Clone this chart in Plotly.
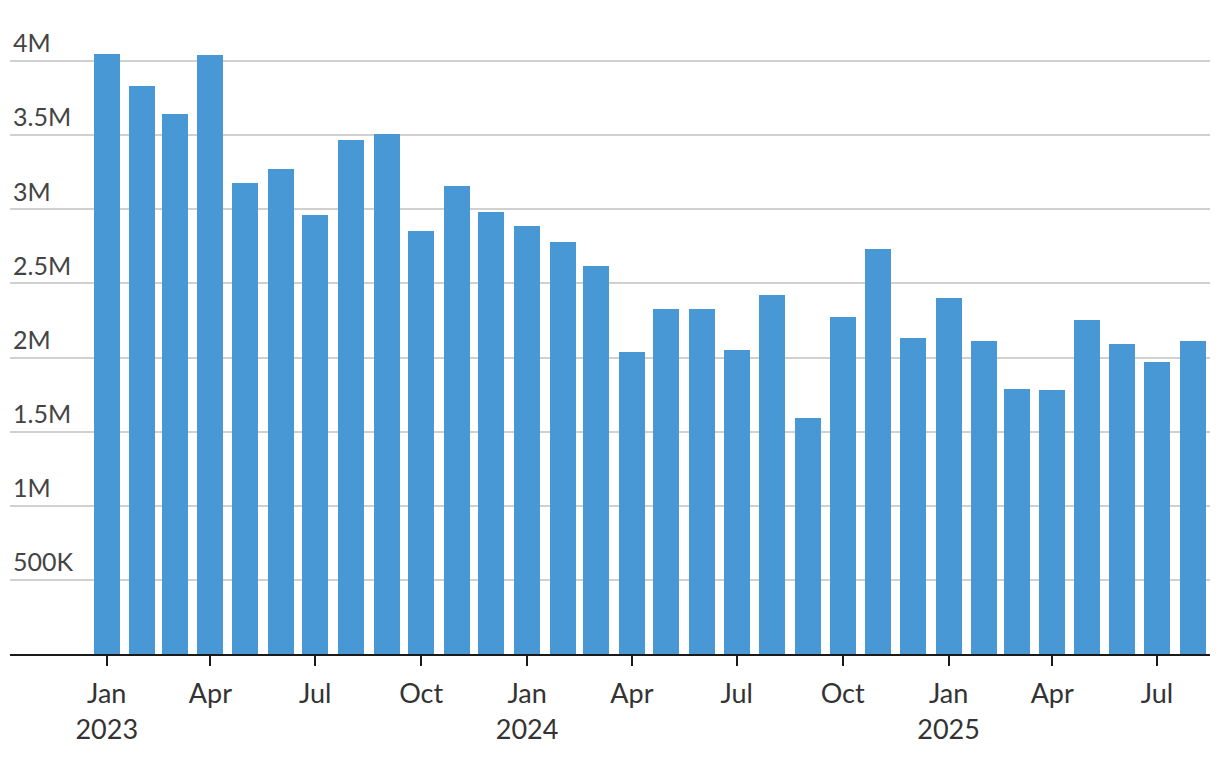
import plotly.graph_objects as go

months = ["2023-01-01", "2023-02-01", "2023-03-01", "2023-04-01", "2023-05-01", "2023-06-01",
          "2023-07-01", "2023-08-01", "2023-09-01", "2023-10-01", "2023-11-01", "2023-12-01",
          "2024-01-01", "2024-02-01", "2024-03-01", "2024-04-01", "2024-05-01", "2024-06-01",
          "2024-07-01", "2024-08-01", "2024-09-01", "2024-10-01", "2024-11-01", "2024-12-01",
          "2025-01-01", "2025-02-01", "2025-03-01", "2025-04-01", "2025-05-01", "2025-06-01",
          "2025-07-01", "2025-08-01"]
values = [4.05e6, 3.83e6, 3.64e6, 4.04e6, 3.18e6, 3.27e6, 2.96e6, 3.47e6, 3.51e6, 2.85e6,
          3.16e6, 2.98e6, 2.89e6, 2.78e6, 2.62e6, 2.04e6, 2.33e6, 2.33e6, 2.05e6, 2.42e6,
          1.59e6, 2.27e6, 2.73e6, 2.13e6, 2.40e6, 2.11e6, 1.79e6, 1.78e6, 2.25e6, 2.09e6,
          1.97e6, 2.11e6]

x_tickvals = ["2023-01-01", "2023-04-01", "2023-07-01", "2023-10-01", "2024-01-01", "2024-04-01",
              "2024-07-01", "2024-10-01", "2025-01-01", "2025-04-01", "2025-07-01"]
x_ticktext = ["Jan<br>2023", "Apr", "Jul", "Oct", "Jan<br>2024", "Apr", "Jul", "Oct",
              "Jan<br>2025", "Apr", "Jul"]
y_tickvals = [500000, 1000000, 1500000, 2000000, 2500000, 3000000, 3500000, 4000000]
y_ticktext = ["500K", "1M", "1.5M", "2M", "2.5M", "3M", "3.5M", "4M"]

DAY = 86400000
fig = go.Figure(go.Bar(x=months, y=values, marker=dict(color="#4898d6", line=dict(width=0)),
                       width=[22.6 * DAY] * len(months)))

# the html page body has an 8px margin; compensate so the plot lands where the reference has it
fig.update_layout(
    width=1212, height=754,
    margin=dict(l=2, r=10, t=2, b=108),
    plot_bgcolor="white", paper_bgcolor="white",
    font=dict(family="Lato, Open Sans, sans-serif", color="#333333", size=25),
    showlegend=False,
    bargap=0,
)
fig.update_xaxes(
    type="date",
    range=["2022-10-09", "2025-08-16"],
    tickvals=x_tickvals, ticktext=x_ticktext,
    ticks="outside", ticklen=10, tickwidth=2, tickcolor="#1a1a1a",
    showline=True, linecolor="#1a1a1a", linewidth=2,
    showgrid=False, zeroline=False,
    tickfont=dict(size=27),
    ticklabelstandoff=5,
)
fig.update_yaxes(
    range=[0, 4.344e6],
    tickvals=y_tickvals, ticktext=y_ticktext,
    ticklabelposition="inside top",
    showgrid=True, gridcolor="#d0d0d0", gridwidth=2,
    zeroline=False, showline=False, ticks="",
    tickfont=dict(size=25),
)
fig.write_html("out.html")
